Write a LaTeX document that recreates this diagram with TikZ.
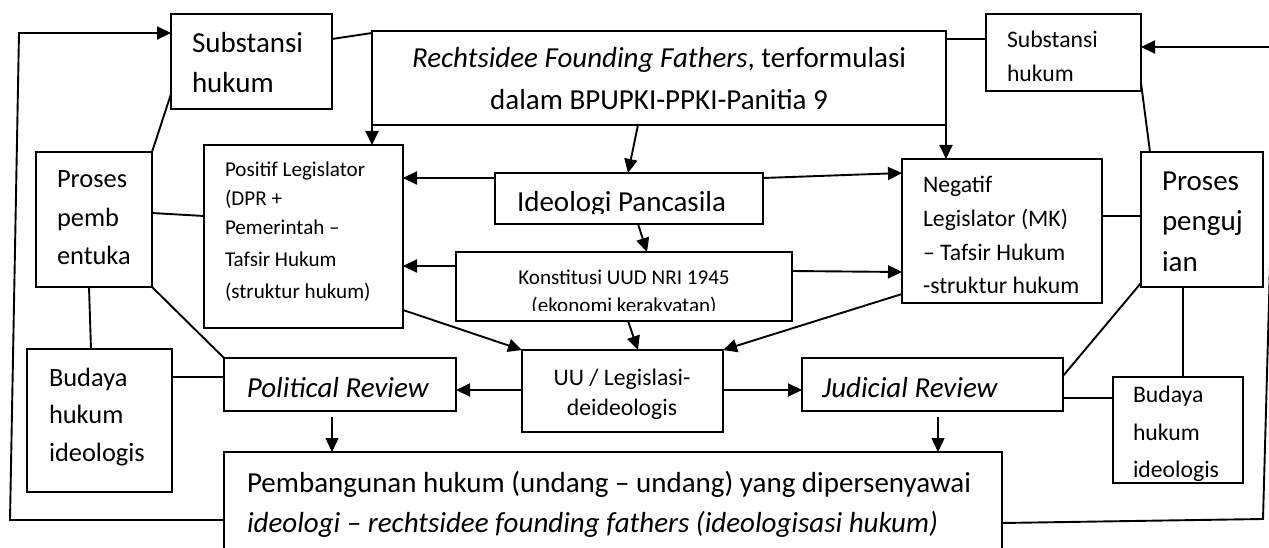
\documentclass[tikz,border=0pt]{standalone}
\usepackage{fontspec}
\setmainfont{Carlito}
\usetikzlibrary{arrows.meta,fit}
\newcommand\szA{\fontsize{29}{35}\selectfont}
\newcommand\szB{\fontsize{26.4}{32}\selectfont}
\newcommand\szC{\fontsize{23.7}{28}\selectfont}
\newcommand\szD{\fontsize{21.1}{25}\selectfont}
\tikzset{
  box/.style={draw, line width=1.9pt, inner sep=0pt, outer sep=0pt},
  link/.style={line width=1.9pt},
  arr/.style={line width=1.9pt, -{Triangle[length=14pt,width=13pt]}},
  thinarr/.style={line width=1.4pt, -{Triangle[length=14pt,width=13pt]}},
  txt/.style={inner sep=0pt, outer sep=0pt, anchor=base west},
  ctxt/.style={inner sep=0pt, outer sep=0pt, anchor=base},
}
\begin{document}
\begin{tikzpicture}[x=1pt,y=-1pt]
\useasboundingbox (0,0) rectangle (1269,548);
\clip (0,0) rectangle (1269,548);
\fill[white] (0,0) rectangle (1269,548);

% boxes
\node[box, fit={(171,14) (332,109)}] (subL) {};
\node[box, fit={(372,31) (946,125)}] (main) {};
\node[box, fit={(986,14) (1141,91)}] (subR) {};
\node[box, fit={(36,152) (152,287)}] (procL) {};
\node[box, fit={(204,145) (403,328)}] (pos) {};
\node[box, fit={(495,173) (763,224)}] (ideo) {};
\node[box, fit={(902,159) (1102,303)}] (neg) {};
\node[box, fit={(1141,152) (1263,287)}] (procR) {};
\node[box, fit={(456,252) (792,321)}] (kons) {};
\node[box, fit={(27,349) (172,492)}] (budL) {};
\node[box, fit={(224,358) (456,411)}] (pol) {};
\node[box, fit={(522,350) (723,432)}] (uu) {};
\node[box, fit={(802,358) (1063,411)}] (jud) {};
\node[box, fit={(1113,377) (1243,483)}] (budR) {};
\node[box, fit={(224,452) (1002,575)}] (bot) {};

% texts
\node[ctxt, font=\szA] (mt1) at (659,68) {\textit{Rechtsidee Founding Fathers}, terformulasi};
\node[ctxt, font=\szA] (mt2) at (659,110) {dalam BPUPKI-PPKI-Panitia 9};
\node[txt, font=\szA] (sl1) at (192,53) {Substansi};
\node[txt, font=\szA] (sl2) at (192,93) {hukum};
\node[txt, font=\szC] (sr1) at (1007,48) {Substansi};
\node[txt, font=\szC] (sr2) at (1007,82) {hukum};
\node[txt, font=\szB] (pl1) at (57,188) {Proses};
\node[txt, font=\szB] (pl2) at (57,226) {pemb};
\node[txt, font=\szB] (pl3) at (57,264) {entuka};
\node[txt, font=\szB] (bl1) at (49,386) {Budaya};
\node[txt, font=\szB] (bl2) at (49,423) {hukum};
\node[txt, font=\szB] (bl3) at (49,461) {ideologis};
\node[txt, font=\szD] (ps1) at (225,177) {Positif Legislator};
\node[txt, font=\szD] (ps2) at (225,206) {(DPR +};
\node[txt, font=\szD] (ps3) at (225,235) {Pemerintah –};
\node[txt, font=\szD] (ps4) at (225,266) {Tafsir Hukum};
\node[txt, font=\szD] (ps5) at (225,298) {(struktur hukum)};
\node[txt, font=\szC] (ng1) at (923,193) {Negatif};
\node[txt, font=\szC] (ng2) at (923,227) {Legislator (MK)};
\node[txt, font=\szC] (ng3) at (923,260) {– Tafsir Hukum};
\begin{scope}
\clip (902,159) rectangle (1102,294);
\node[txt, font=\szC] (ng4) at (923,293) {-struktur hukum};
\end{scope}
\node[txt, font=\szA] (pr1) at (1162,191) {Proses};
\node[txt, font=\szA] (pr2) at (1162,230) {penguj};
\node[txt, font=\szA] (pr3) at (1162,271) {ian};
\node[txt, font=\szC] (br1) at (1133,402) {Budaya};
\node[txt, font=\szC] (br2) at (1133,440) {hukum};
\node[txt, font=\szC] (br3) at (1133,477) {ideologis};
\begin{scope}
\clip (495,173) rectangle (763,213.5);
\node[txt, font=\szA] (id1) at (517,212) {Ideologi Pancasila};
\end{scope}
\node[ctxt, font=\szD] (ko1) at (624,284) {Konstitusi UUD NRI 1945};
\begin{scope}
\clip (456,252) rectangle (792,310.5);
\node[ctxt, font=\szD] (ko2) at (624,312) {(ekonomi kerakyatan)};
\end{scope}
\node[ctxt, font=\szC] (uu1) at (622,385) {UU / Legislasi-};
\node[ctxt, font=\szC] (uu2) at (622,415) {deideologis};
\node[ctxt, font=\szA] (po1) at (338,397) {\textit{Political Review}};
\node[txt, font=\szA] (ju1) at (822,397) {\textit{Judicial Review}};
\node[txt, font=\szA] (bo1) at (247,492) {Pembangunan hukum (undang – undang) yang dipersenyawai};
\node[txt, font=\szA] (bo2) at (247,532) {\textit{ideologi – rechtsidee founding fathers (ideologisasi hukum)}};

% helper coordinates
\coordinate (fbL1) at (10,520);
\coordinate (fbL2) at (19,33);
\coordinate (fbR1) at (1263,519);
\coordinate (fbR2) at (1276,47);
\coordinate (pa) at (332,417);
\coordinate (ja) at (938,417);

% feedback loops
\draw[arr] (bot.west |- 0,520) -- (fbL1) -- (fbL2) -- (subL.west |- 0,33);
\draw[arr] (bot.east |- 0,523) -- (fbR1) -- (fbR2) -- (subR.east |- 0,47);

% top connectors
\draw[link] (subL.east |- 0,39) -- (main.west |- 0,33);
\draw[link] (main.east |- 0,39) -- (subR.west |- 0,39);
\draw[arr] (main.south west) -- (main.south west |- pos.north);
\draw[arr] (main.south east) -- (main.south east |- neg.north);
\draw[arr] (main.south -| 638,0) -- (ideo.north -| 628,0);

% left side
\draw[link] (subL.west |- 0,94) -- (procL.north east);
\draw[link] (procL.east |- 0,213) -- (pos.west |- 0,216);
\draw[link] (procL.south -| 89,0) -- (budL.north -| 91,0);
\draw[link] (procL.south east) -- (pol.north west);
\draw[link] (budL.east |- 0,377) -- (pol.west |- 0,377);

% middle
\draw[arr] (ideo.west |- 0,178) -- (pos.east |- 0,178);
\draw[arr] (ideo.east |- 0,178) -- (neg.west |- 0,173);
\draw[arr] (ideo.south -| 638,0) -- (kons.north -| 647,0);
\draw[arr] (kons.west |- 0,266) -- (pos.east |- 0,266);
\draw[arr] (kons.east |- 0,271) -- (neg.west |- 0,272);
\draw[arr] (kons.south -| 628,0) -- (uu.north -| 638,0);
\draw[arr] (pos.east |- 0,310) -- (uu.north west);
\draw[arr] (neg.west |- 0,294) -- (uu.north east);
\draw[arr] (uu.west |- 0,390) -- (pol.east |- 0,390);
\draw[arr] (uu.east |- 0,390) -- (jud.west |- 0,390);
\draw[thinarr] (pa) -- (pa |- bot.north);
\draw[thinarr] (ja) -- (ja |- bot.north);

% right side
\draw[link] (neg.east |- 0,216) -- (procR.west |- 0,216);
\draw[link] (subR.east |- 0,83) -- (procR.north -| 1150,0);
\draw[link] (procR.south -| 1183,0) -- (budR.north -| 1183,0);
\draw[link] (procR.west |- 0,283) -- (jud.east |- 0,376);
\draw[link] (budR.west |- 0,398) -- (jud.east |- 0,398);
\end{tikzpicture}
\end{document}
